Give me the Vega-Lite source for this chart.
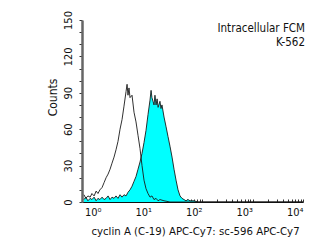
{
  "$schema": "https://vega.github.io/schema/vega-lite/v6.json",
  "width": 221,
  "height": 182,
  "autosize": "none",
  "padding": {"left": 82, "top": 20, "right": 24, "bottom": 39},
  "background": "white",
  "datasets": {
    "hist": [
      {"series": "control", "x": 0.46, "count": 6},
      {"series": "control", "x": 0.50, "count": 3},
      {"series": "control", "x": 0.55, "count": 5},
      {"series": "control", "x": 0.61, "count": 4},
      {"series": "control", "x": 0.66, "count": 7},
      {"series": "control", "x": 0.73, "count": 5},
      {"series": "control", "x": 0.80, "count": 9},
      {"series": "control", "x": 0.87, "count": 7},
      {"series": "control", "x": 0.95, "count": 10},
      {"series": "control", "x": 1.05, "count": 12},
      {"series": "control", "x": 1.15, "count": 16},
      {"series": "control", "x": 1.26, "count": 20},
      {"series": "control", "x": 1.38, "count": 23},
      {"series": "control", "x": 1.51, "count": 27},
      {"series": "control", "x": 1.65, "count": 32},
      {"series": "control", "x": 1.81, "count": 37},
      {"series": "control", "x": 1.98, "count": 43},
      {"series": "control", "x": 2.17, "count": 50},
      {"series": "control", "x": 2.38, "count": 60},
      {"series": "control", "x": 2.61, "count": 68},
      {"series": "control", "x": 2.85, "count": 79},
      {"series": "control", "x": 3.13, "count": 91},
      {"series": "control", "x": 3.28, "count": 97},
      {"series": "control", "x": 3.42, "count": 88},
      {"series": "control", "x": 3.58, "count": 94},
      {"series": "control", "x": 3.75, "count": 86},
      {"series": "control", "x": 4.11, "count": 88},
      {"series": "control", "x": 4.50, "count": 74},
      {"series": "control", "x": 4.93, "count": 66},
      {"series": "control", "x": 5.40, "count": 55},
      {"series": "control", "x": 5.92, "count": 44},
      {"series": "control", "x": 6.48, "count": 30},
      {"series": "control", "x": 7.10, "count": 18},
      {"series": "control", "x": 7.78, "count": 11},
      {"series": "control", "x": 8.52, "count": 7},
      {"series": "control", "x": 9.34, "count": 4},
      {"series": "control", "x": 10.2, "count": 5},
      {"series": "control", "x": 11.2, "count": 2},
      {"series": "control", "x": 12.3, "count": 3},
      {"series": "control", "x": 13.5, "count": 1},
      {"series": "control", "x": 14.7, "count": 2},
      {"series": "control", "x": 17.7, "count": 1},
      {"series": "control", "x": 23.2, "count": 0},
      {"series": "control", "x": 10000, "count": 0},
      {"series": "sample", "x": 0.46, "count": 2},
      {"series": "sample", "x": 0.50, "count": 4},
      {"series": "sample", "x": 0.55, "count": 1},
      {"series": "sample", "x": 0.61, "count": 3},
      {"series": "sample", "x": 0.66, "count": 2},
      {"series": "sample", "x": 0.73, "count": 4},
      {"series": "sample", "x": 0.80, "count": 1},
      {"series": "sample", "x": 0.87, "count": 3},
      {"series": "sample", "x": 0.95, "count": 2},
      {"series": "sample", "x": 1.05, "count": 4},
      {"series": "sample", "x": 1.15, "count": 2},
      {"series": "sample", "x": 1.26, "count": 3},
      {"series": "sample", "x": 1.38, "count": 5},
      {"series": "sample", "x": 1.51, "count": 2},
      {"series": "sample", "x": 1.65, "count": 4},
      {"series": "sample", "x": 1.81, "count": 3},
      {"series": "sample", "x": 1.98, "count": 5},
      {"series": "sample", "x": 2.17, "count": 3},
      {"series": "sample", "x": 2.38, "count": 6},
      {"series": "sample", "x": 2.61, "count": 4},
      {"series": "sample", "x": 2.85, "count": 6},
      {"series": "sample", "x": 3.13, "count": 5},
      {"series": "sample", "x": 3.42, "count": 8},
      {"series": "sample", "x": 3.75, "count": 10},
      {"series": "sample", "x": 4.11, "count": 13},
      {"series": "sample", "x": 4.50, "count": 17},
      {"series": "sample", "x": 4.93, "count": 21},
      {"series": "sample", "x": 5.40, "count": 27},
      {"series": "sample", "x": 5.92, "count": 33},
      {"series": "sample", "x": 6.48, "count": 40},
      {"series": "sample", "x": 7.10, "count": 49},
      {"series": "sample", "x": 7.78, "count": 59},
      {"series": "sample", "x": 8.52, "count": 72},
      {"series": "sample", "x": 9.34, "count": 84},
      {"series": "sample", "x": 9.8, "count": 92},
      {"series": "sample", "x": 10.2, "count": 86},
      {"series": "sample", "x": 10.7, "count": 83},
      {"series": "sample", "x": 11.2, "count": 80},
      {"series": "sample", "x": 11.7, "count": 88},
      {"series": "sample", "x": 12.3, "count": 80},
      {"series": "sample", "x": 12.9, "count": 85},
      {"series": "sample", "x": 13.5, "count": 78},
      {"series": "sample", "x": 14.7, "count": 83},
      {"series": "sample", "x": 15.4, "count": 77},
      {"series": "sample", "x": 16.1, "count": 80},
      {"series": "sample", "x": 17.7, "count": 70},
      {"series": "sample", "x": 19.4, "count": 62},
      {"series": "sample", "x": 21.2, "count": 54},
      {"series": "sample", "x": 23.2, "count": 46},
      {"series": "sample", "x": 25.5, "count": 37},
      {"series": "sample", "x": 27.9, "count": 27},
      {"series": "sample", "x": 30.6, "count": 18},
      {"series": "sample", "x": 33.5, "count": 10},
      {"series": "sample", "x": 36.7, "count": 5},
      {"series": "sample", "x": 40.2, "count": 3},
      {"series": "sample", "x": 44.0, "count": 2},
      {"series": "sample", "x": 48.2, "count": 1},
      {"series": "sample", "x": 52.8, "count": 2},
      {"series": "sample", "x": 57.8, "count": 1},
      {"series": "sample", "x": 69.4, "count": 1},
      {"series": "sample", "x": 83, "count": 0},
      {"series": "sample", "x": 10000, "count": 0}
    ],
    "notes": [
      {"x": 10000, "count": 142.6, "note": "Intracellular FCM"},
      {"x": 10000, "count": 131, "note": "K-562"}
    ]
  },
  "encoding": {
    "x": {
      "field": "x",
      "type": "quantitative",
      "scale": {"type": "log", "domain": [0.42, 10000], "nice": false},
      "axis": {
        "title": "cyclin A (C-19) APC-Cy7: sc-596 APC-Cy7",
        "values": [1,2,3,4,5,6,7,8,9,10,20,30,40,50,60,70,80,90,100,200,300,400,500,600,700,800,900,1000,2000,3000,4000,5000,6000,7000,8000,9000,10000],
        "labelExpr": "datum.value == 1 ? '10⁰' : datum.value == 10 ? '10¹' : datum.value == 100 ? '10²' : datum.value == 1000 ? '10³' : datum.value == 10000 ? '10⁴' : ''",
        "labelOverlap": false,
        "labelFlush": false,
        "labelAlign": "right",
        "labelBaseline": "top",
        "labelPadding": 7,
        "labelFontSize": 11,
        "tickSize": -3,
        "grid": false,
        "domainColor": "#111",
        "domainWidth": 1,
        "titleFontSize": 11.3,
        "titleFontWeight": "normal",
        "titleX": 113,
        "titleY": 32,
        "titleAlign": "center",
        "titleBaseline": "alphabetic"
      }
    },
    "y": {
      "field": "count",
      "type": "quantitative",
      "scale": {"domain": [0, 150], "nice": false},
      "axis": {
        "title": "Counts",
        "values": [0,10,20,30,40,50,60,70,80,90,100,110,120,130,140,150],
        "labelExpr": "datum.value % 30 == 0 ? datum.label : ''",
        "labelAngle": -90,
        "labelAlign": "center",
        "labelBaseline": "bottom",
        "labelPadding": 6,
        "labelFontSize": 11,
        "labelOverlap": false,
        "tickSize": 3,
        "grid": false,
        "domainColor": "#666",
        "domainWidth": 2.5,
        "titleFontSize": 12,
        "titleFontWeight": "normal",
        "titleAngle": -90,
        "titleX": -30,
        "titleY": 77,
        "titleAlign": "center",
        "titleBaseline": "middle"
      }
    }
  },
  "layer": [
    {
      "data": {"name": "hist"},
      "transform": [{"filter": "datum.series == 'sample'"}],
      "mark": {"type": "area", "color": "#00ffff", "opacity": 1, "clip": true},
      "encoding": {}
    },
    {
      "data": {"name": "hist"},
      "transform": [{"filter": "datum.series == 'sample'"}],
      "mark": {"type": "line", "color": "#1a1a1a", "strokeWidth": 0.9, "clip": true},
      "encoding": {}
    },
    {
      "data": {"name": "hist"},
      "transform": [{"filter": "datum.series == 'control'"}],
      "mark": {"type": "line", "color": "#1a1a1a", "strokeWidth": 0.9, "clip": true},
      "encoding": {}
    },
    {
      "data": {"name": "notes"},
      "mark": {
        "type": "text",
        "align": "right",
        "baseline": "middle",
        "dx": 2,
        "fontSize": 11.5,
        "font": "DejaVu Sans Condensed, Liberation Sans",
        "color": "#111"
      },
      "encoding": {
        "text": {"field": "note"}
      }
    }
  ],
  "config": {
    "view": {"stroke": null},
    "font": "DejaVu Sans Condensed, Liberation Sans",
    "axis": {
      "labelFont": "DejaVu Sans Condensed, Liberation Sans",
      "titleFont": "DejaVu Sans Condensed, Liberation Sans",
      "labelColor": "#111",
      "titleColor": "#111",
      "tickColor": "#333"
    }
  }
}
